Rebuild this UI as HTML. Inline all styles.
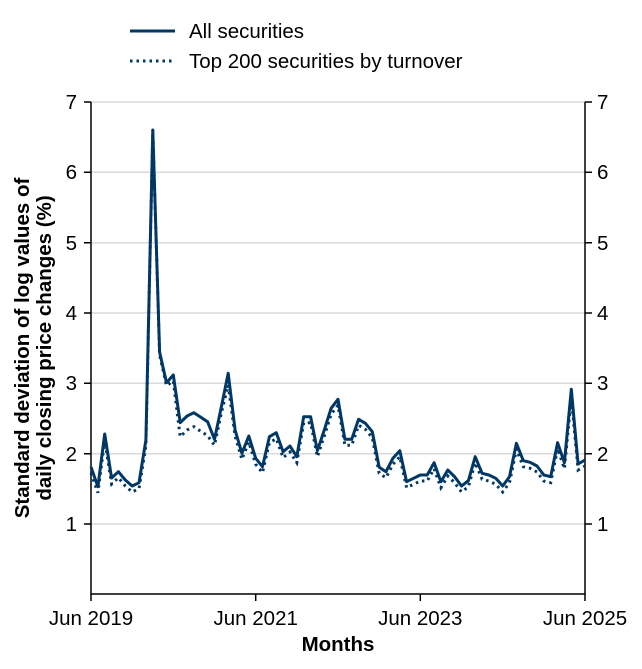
<!DOCTYPE html>
<html><head><meta charset="utf-8"><style>
body{margin:0;background:#fff}
svg{display:block;font-family:"Liberation Sans",Arial,sans-serif}
</style></head><body>
<svg id="s" width="642" height="669" viewBox="0 0 642 669" xmlns="http://www.w3.org/2000/svg">
<g stroke="#d9d9d9" stroke-width="1.5">
<line x1="91" x2="585" y1="102" y2="102"/><line x1="91" x2="585" y1="172.3" y2="172.3"/>
<line x1="91" x2="585" y1="242.7" y2="242.7"/><line x1="91" x2="585" y1="313" y2="313"/>
<line x1="91" x2="585" y1="383.3" y2="383.3"/><line x1="91" x2="585" y1="453.7" y2="453.7"/>
<line x1="91" x2="585" y1="524" y2="524"/>
</g>
<g stroke="#000" stroke-width="1.5" fill="none">
<path d="M91 102V594H585V102"/>
<path d="M84 102H91M84 172.3H91M84 242.7H91M84 313H91M84 383.3H91M84 453.7H91M84 524H91"/>
<path d="M585 102H592M585 172.3H592M585 242.7H592M585 313H592M585 383.3H592M585 453.7H592M585 524H592"/>
<path d="M91 594V601M255.7 594V601M420.3 594V601M585 594V601"/>
</g>
<g font-size="20.5" fill="#000">
<g text-anchor="end"><text x="77" y="109">7</text><text x="77" y="179">6</text><text x="77" y="250">5</text><text x="77" y="320">4</text><text x="77" y="390">3</text><text x="77" y="461">2</text><text x="77" y="531">1</text></g>
<g text-anchor="start"><text x="597" y="109">7</text><text x="597" y="179">6</text><text x="597" y="250">5</text><text x="597" y="320">4</text><text x="597" y="390">3</text><text x="597" y="461">2</text><text x="597" y="531">1</text></g>
<g text-anchor="middle"><text x="91" y="625">Jun 2019</text><text x="255.7" y="625">Jun 2021</text><text x="420.3" y="625">Jun 2023</text><text x="585" y="625">Jun 2025</text></g>
<text x="338" y="651" text-anchor="middle" font-weight="bold">Months</text>
<text transform="translate(29,348) rotate(-90)" text-anchor="middle" font-weight="bold">Standard deviation of log values of</text>
<text transform="translate(51,348) rotate(-90)" text-anchor="middle" font-weight="bold">daily closing price changes (%)</text>
<text x="189" y="38">All securities</text>
<text x="189" y="68">Top 200 securities by turnover</text>
</g>
<line x1="130" x2="175" y1="31" y2="31" stroke="#003764" stroke-width="3"/>
<line x1="130" x2="175" y1="61" y2="61" stroke="#003764" stroke-width="3" stroke-dasharray="2.5,4"/>
<polyline id="dot" fill="none" stroke="#003764" stroke-width="3" stroke-dasharray="2.5,4"/>
<polyline id="sol" fill="none" stroke="#003764" stroke-width="3" stroke-linejoin="round"/>
</svg>
<script>
var y=[467,486.7,434,478,471.7,480,486,482.7,440,130,352,382.7,375,422.7,416,412.7,417.3,421.7,439.3,406.7,373.3,430,453.3,436,458.3,466.7,436.7,432.7,451.7,446,456.7,416.7,416.7,450.7,430,408.3,399.3,439.3,439.3,419.3,423.3,431.7,467.3,471.7,458.3,450.7,481.7,478.3,475,475,462.7,481.7,470,476.7,486,480.7,456.7,473.3,475,478.3,486,476.7,443.3,460.7,462.3,466,475,476.7,442.7,462.7,389.3,464,460];
var s=[],d=[];
for(var i=0;i<y.length;i++){var x=91+494*i/72;s.push(x.toFixed(1)+","+y[i]);
var off=6;if(i>=13&&i<=17)off=14;if(i==9)off=0;if(i==20)off=12;if(i==10||i==11)off=3;if(i==70)off=8;
d.push(x.toFixed(1)+","+(y[i]+off));}
document.getElementById("sol").setAttribute("points",s.join(" "));
document.getElementById("dot").setAttribute("points",d.join(" "));
</script>
</body></html>
